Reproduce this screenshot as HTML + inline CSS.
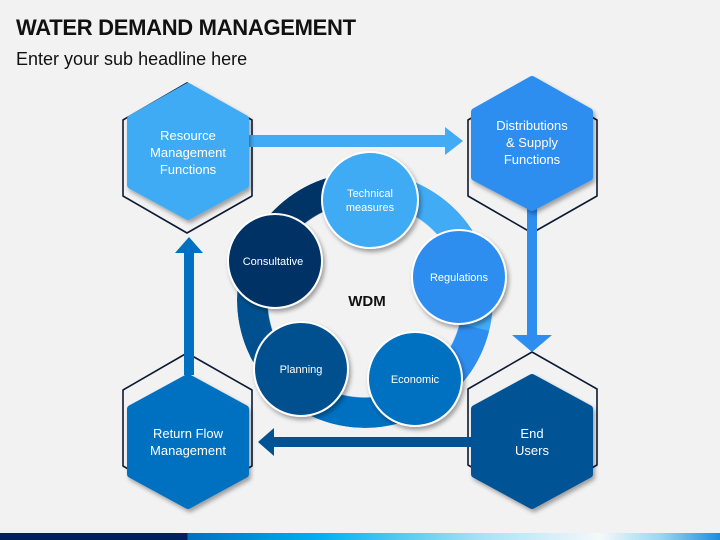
<!DOCTYPE html>
<html><head><style>
body{margin:0;width:720px;height:540px;background:#f2f2f2;overflow:hidden;position:relative;font-family:"Liberation Sans",sans-serif}
.t{position:absolute;left:16px;top:15px;font-size:22px;font-weight:bold;color:#111;letter-spacing:-0.3px}
.s{position:absolute;left:16px;top:49px;font-size:18px;color:#111}
.bar{position:absolute;left:0;top:533px;width:720px;height:7px;background:linear-gradient(90deg,#002060 0,#002060 187px,#0070c0 188px,#00b0f0 320px,#a8e2f5 480px,#f5f8fa 600px,#9ad8f0 660px,#1f8ce0 720px)}
</style></head><body>
<div class="t">WATER DEMAND MANAGEMENT</div>
<div class="s">Enter your sub headline here</div>
<svg width="720" height="540" style="position:absolute;left:0;top:0" font-family="Liberation Sans, sans-serif">
<defs><filter id="sh" x="-20%" y="-20%" width="150%" height="150%"><feDropShadow dx="2" dy="3" stdDeviation="2" flood-opacity="0.35"/></filter></defs>
<g fill="none" stroke="#0d1a33" stroke-width="1.6" stroke-linejoin="round">
<polygon points="187,83 252,120 252,196 187,233 123,196 123,120"/>
<polygon points="532,83 597,120 597,196 532,233 468,196 468,120"/>
<polygon points="187,353 252,390 252,466 187,503 123,466 123,390"/>
<polygon points="532,352 597,389 597,465 532,502 468,465 468,389"/>
</g>
<polygon points="248,135 445,135 445,127 463,141 445,155 445,147 248,147" fill="#41abf5"/>
<polygon points="527,208 537,208 537,335 552,335 532,352 512,335 527,335" fill="#2d8ef0"/>
<polygon points="473,437 274,437 274,428 258,442 274,456 274,447 473,447" fill="#005295"/>
<polygon points="184,375 184,253 175,253 189,237 203,253 194,253 194,375" fill="#0070c0"/>
<g stroke-linejoin="round" stroke-width="8" filter="url(#sh)">
<polygon points="188,87 245,119 245,185 188,216 131,185 131,119" fill="#41abf5" stroke="#41abf5"/>
<polygon points="532,80 589,112 589,177 532,207 475,177 475,112" fill="#2d8ef0" stroke="#2d8ef0"/>
<polygon points="188,378 245,409 245,474 188,505 131,474 131,409" fill="#0070c0" stroke="#0070c0"/>
<polygon points="532,378 589,409 589,474 532,505 475,474 475,409" fill="#005295" stroke="#005295"/>
</g>
<g fill="#fff" font-size="13" text-anchor="middle">
<text x="188" y="140">Resource</text><text x="188" y="157">Management</text><text x="188" y="174">Functions</text>
<text x="532" y="130">Distributions</text><text x="532" y="147">&amp; Supply</text><text x="532" y="164">Functions</text>
<text x="188" y="438">Return Flow</text><text x="188" y="455">Management</text>
<text x="532" y="438">End</text><text x="532" y="455">Users</text>
</g>
</svg>
<div style="position:absolute;left:237px;top:172px;width:256px;height:256px;border-radius:50%;background:conic-gradient(#41abf5 0deg 104deg,#2d8ef0 104deg 148deg,#0070c0 148deg 223deg,#00508f 223deg 293deg,#003366 293deg 360deg);-webkit-mask:radial-gradient(circle,transparent 97px,#000 98px);mask:radial-gradient(circle,transparent 97px,#000 98px)"></div>
<svg width="720" height="540" style="position:absolute;left:0;top:0" font-family="Liberation Sans, sans-serif">
<defs><filter id="sh2" x="-20%" y="-20%" width="150%" height="150%"><feDropShadow dx="2" dy="3" stdDeviation="2" flood-opacity="0.35"/></filter></defs>
<g stroke="#fff" stroke-width="2" filter="url(#sh2)">
<circle cx="370" cy="200" r="48" fill="#41abf5"/>
<circle cx="459" cy="277" r="47" fill="#2d8ef0"/>
<circle cx="415" cy="379" r="47" fill="#0070c0"/>
<circle cx="301" cy="369" r="47" fill="#00508f"/>
<circle cx="275" cy="261" r="47" fill="#003366"/>
</g>
<g fill="#fff" font-size="11" text-anchor="middle">
<text x="370" y="197">Technical</text><text x="370" y="211">measures</text>
<text x="459" y="281">Regulations</text>
<text x="415" y="383">Economic</text>
<text x="301" y="373">Planning</text>
<text x="273" y="265">Consultative</text>
</g>
<text x="367" y="306" font-size="15" font-weight="bold" text-anchor="middle" fill="#111">WDM</text>
</svg>
<div class="bar"></div>
</body></html>
